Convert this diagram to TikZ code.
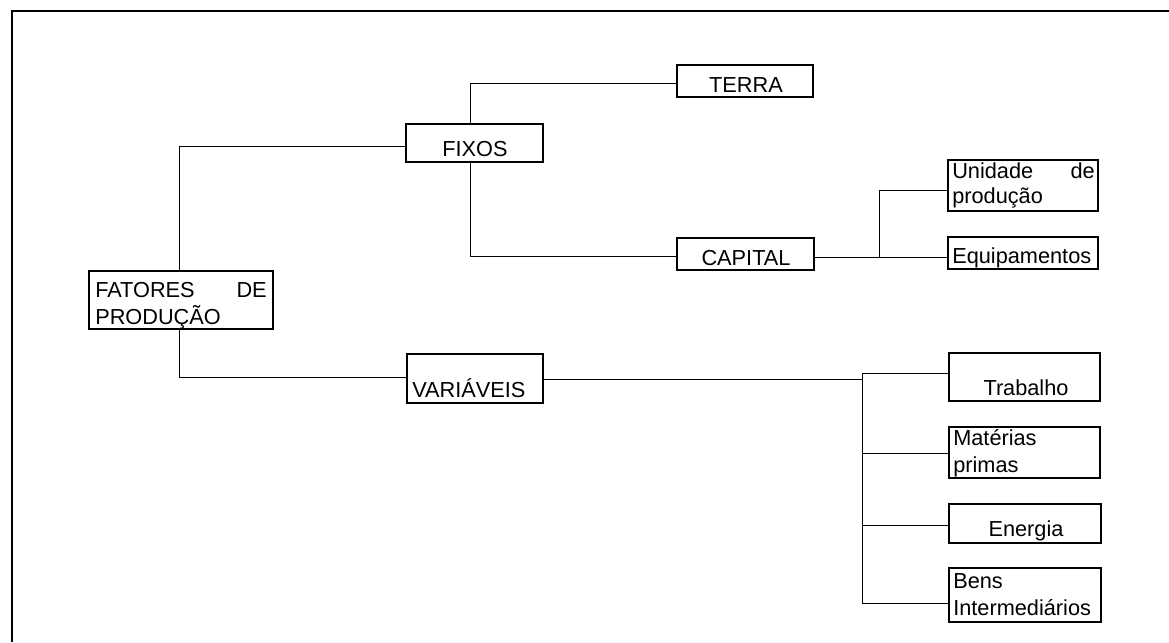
\documentclass[tikz,border=0pt]{standalone}
\usepackage{fontspec}
\setmainfont{Liberation Sans}
\usetikzlibrary{fit}
\begin{document}
\begin{tikzpicture}[x=0.75pt,y=-0.75pt,
  box/.style={draw, line width=1.5pt, inner sep=0pt},
  txt/.style={inner sep=0pt, font=\fontsize{16.3pt}{19pt}\selectfont},
  conn/.style={line width=0.6pt},
  frame/.style={line width=1.8pt}]
\useasboundingbox (0,0) rectangle (1169,642);
% outer frame (cropped on the right and bottom)
\draw[frame] (1169,11) -- (12,11) -- (12,642);

% boxes
\node[box, fit={(89,271) (273,329)}] (fat) {};
\node[box, fit={(406,124) (543,162)}] (fix) {};
\node[box, fit={(407,354) (543,403)}] (var) {};
\node[box, fit={(677,65) (813,97)}] (ter) {};
\node[box, fit={(677,238) (814,270)}] (cap) {};
\node[box, fit={(948,160) (1098,211)}] (uni) {};
\node[box, fit={(948,237) (1098,269)}] (equ) {};
\node[box, fit={(949,353) (1100,401)}] (tra) {};
\node[box, fit={(949,427) (1100,478)}] (mat) {};
\node[box, fit={(949,504) (1101,543)}] (ene) {};
\node[box, fit={(949,568) (1101,622)}] (ben) {};

% texts
\node[txt, anchor=base west] (tfat1) at (95,297) {FATORES};
\node[txt, anchor=base east] (tfat2) at (267,297) {DE};
\node[txt, anchor=base west] (tfat3) at (95,324) {PRODUÇÃO};
\node[txt, anchor=base] (tfix) at (475,156) {FIXOS};
\node[txt, anchor=base west] (tvar) at (412,397) {VARIÁVEIS};
\node[txt, anchor=base] (tter) at (746,92) {TERRA};
\node[txt, anchor=base] (tcap) at (746,265) {CAPITAL};
\node[txt, anchor=base west] (tuni1) at (952,178) {Unidade};
\node[txt, anchor=base east] (tuni2) at (1095,178) {de};
\node[txt, anchor=base west] (tuni3) at (952,203) {produção};
\node[txt, anchor=base west] (tequ) at (952,263) {Equipamentos};
\node[txt, anchor=base] (ttra) at (1026,395) {Trabalho};
\node[txt, anchor=base west] (tmat1) at (953,445) {Matérias};
\node[txt, anchor=base west] (tmat2) at (953,472) {primas};
\node[txt, anchor=base] (tene) at (1026,536) {Energia};
\node[txt, anchor=base west] (tben1) at (953,588) {Bens};
\node[txt, anchor=base west] (tben2) at (953,615) {Intermediários};

% junctions
\coordinate (jfa) at (179,146);
\coordinate (jfb) at (179,377);
\coordinate (jta) at (470,83);
\coordinate (jca) at (470,256);
\coordinate (jcb) at (879,257);
\coordinate (jcu) at (879,190);
\coordinate (jv) at (862,379);
\coordinate (jv1) at (862,373);
\coordinate (jv2) at (862,453);
\coordinate (jv3) at (862,525);
\coordinate (jv4) at (862,603);

% connectors
\draw[conn] (jfa |- fat.north) -- (jfa) -- (jfa -| fix.west);
\draw[conn] (jfb |- fat.south) -- (jfb) -- (jfb -| var.west);
\draw[conn] (jta |- fix.north) -- (jta) -- (jta -| ter.west);
\draw[conn] (jca |- fix.south) -- (jca) -- (jca -| cap.west);
\draw[conn] (jcb -| cap.east) -- (jcb -| equ.west);
\draw[conn] (jcb) -- (jcu) -- (jcu -| uni.west);
\draw[conn] (jv -| var.east) -- (jv);
\draw[conn] (jv1) -- (jv4);
\draw[conn] (jv1) -- (jv1 -| tra.west);
\draw[conn] (jv2) -- (jv2 -| mat.west);
\draw[conn] (jv3) -- (jv3 -| ene.west);
\draw[conn] (jv4) -- (jv4 -| ben.west);
\end{tikzpicture}
\end{document}
